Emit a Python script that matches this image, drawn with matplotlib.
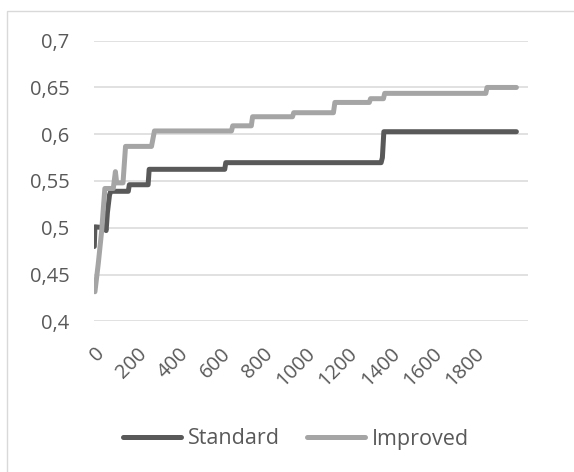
import matplotlib
matplotlib.use("Agg")
import matplotlib.pyplot as plt
from matplotlib.patches import Rectangle
from matplotlib.transforms import ScaledTranslation

# Data
std_x = [0, 3, 50, 56, 62, 72, 78, 161, 166, 255, 260, 618, 623, 1359, 1365, 1372, 2000]
std_y = [0.480, 0.501, 0.500, 0.497, 0.516, 0.535, 0.539, 0.539, 0.546, 0.546, 0.5625,
         0.5625, 0.5696, 0.5696, 0.575, 0.6027, 0.6027]

imp_x = [3, 19, 35, 50, 90, 100, 106, 136, 148, 271, 285, 650, 656, 744, 750, 939, 945,
         1133, 1140, 1303, 1309, 1370, 1376, 1855, 1861, 2000]
imp_y = [0.4316, 0.462, 0.497, 0.542, 0.542, 0.560, 0.548, 0.548, 0.587, 0.587, 0.6035,
         0.6035, 0.609, 0.609, 0.6187, 0.6187, 0.623, 0.623, 0.634, 0.634, 0.638, 0.638,
         0.6437, 0.6437, 0.650, 0.650]

x_ticks = [0, 200, 400, 600, 800, 1000, 1200, 1400, 1600, 1800]
y_ticks = [0.4, 0.45, 0.5, 0.55, 0.6, 0.65, 0.7]
y_tick_labels = ["0,4", "0,45", "0,5", "0,55", "0,6", "0,65", "0,7"]
series_names = ["Standard", "Improved"]

TEXT = "#595959"
FS = 14.5
plt.rcParams['font.family'] = ['Open Sans', 'DejaVu Sans']

W, H = 574, 472
fig = plt.figure(figsize=(W / 100, H / 100), dpi=100)
fig.patch.set_facecolor("white")

# outer chart border
fig.patches.append(Rectangle((7 / W, -0.1), 1.2, 1 - 11 / H + 0.1, transform=fig.transFigure,
                             fill=False, edgecolor="#D9D9D9", linewidth=1.0))

left, right = 94.3, 528.0
top, bottom = 40.7, 321.3
ax = fig.add_axes([left / W, 1 - bottom / H, (right - left) / W, (bottom - top) / H])

ax.plot(std_x, std_y, color="#595959", lw=3.6, solid_capstyle="round",
        solid_joinstyle="round", label=series_names[0], zorder=3)
ax.plot(imp_x, imp_y, color="#A5A5A5", lw=3.6, solid_capstyle="round",
        solid_joinstyle="round", label=series_names[1], zorder=4)

ax.set_xlim(0, 2055)
ax.set_ylim(0.4, 0.7)
ax.set_yticks(y_ticks)
ax.set_yticklabels(y_tick_labels)
ax.set_xticks(x_ticks)
ax.set_xticklabels([str(v) for v in x_ticks], rotation=45, ha="right", va="top",
                   rotation_mode="anchor")
shift = ScaledTranslation(-6 / 72, 0, fig.dpi_scale_trans)
for lab in ax.get_xticklabels():
    lab.set_transform(lab.get_transform() + shift)
ax.grid(axis="y", color="#D9D9D9", lw=1.1)
ax.set_axisbelow(True)
for s in ax.spines.values():
    s.set_visible(False)
ax.tick_params(axis="both", length=0, colors=TEXT, labelsize=FS)
ax.tick_params(axis="y", pad=18)
ax.tick_params(axis="x", pad=16)

fig.legend(loc="center", bbox_to_anchor=(296 / W, 1 - 439 / H), ncol=2, frameon=False,
           fontsize=15.5, labelcolor=TEXT, handlelength=2.7, handletextpad=0.31,
           columnspacing=1.24)

fig.savefig("out.png", dpi=100, facecolor="white")
